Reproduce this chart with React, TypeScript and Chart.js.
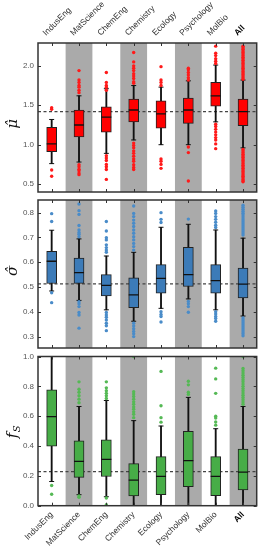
import React, { useEffect, useRef } from "react";
import { Chart, registerables } from "chart.js";
Chart.register(...registerables);

const CATEGORIES = ["IndusEng", "MatScience", "ChemEng", "Chemistry", "Ecology", "Psychology", "MolBio", "All"];
const SHADED = ["MatScience", "Chemistry", "Psychology", "All"];

// ---- mu-hat panel ----
const MU_Q1 = [0.91, 1.10, 1.16, 1.29, 1.21, 1.27, 1.49, 1.24];
const MU_MED = [1.01, 1.25, 1.35, 1.44, 1.39, 1.44, 1.62, 1.42];
const MU_Q3 = [1.22, 1.44, 1.48, 1.58, 1.555, 1.59, 1.79, 1.58];
const MU_LO = [0.76, 0.78, 0.89, 1.06, 1.0, 1.0, 1.29, 0.96];
const MU_HI = [1.32, 1.62, 1.71, 1.75, 1.73, 1.81, 2.01, 1.82];
const MU_OUT = [
  [1.47, 1.45, 0.68, 0.6],
  [1.94, 1.82, 1.79, 1.75, 1.73, 1.69, 1.66, 0.745, 0.72, 0.69, 0.67, 0.64, 0.62],
  [1.915, 1.79, 1.75, 1.73, 1.69, 0.86, 0.83, 0.8, 0.75, 0.72, 0.685, 0.56],
  [2.17, 2.05, 2.0, 1.97, 1.94, 1.9, 1.87, 1.84, 1.8, 1.78, 1.02, 0.99, 0.96, 0.92, 0.89, 0.855, 0.82, 0.79, 0.745, 0.71, 0.685],
  [1.99, 1.82, 1.79, 1.75, 0.82, 0.79, 0.75, 0.7],
  [1.97, 1.95, 1.915, 1.885, 1.85, 1.82, 0.97, 0.9, 0.54],
  [2.25, 2.16, 2.13, 2.09, 2.06, 2.03, 1.26, 1.23, 1.195, 1.16, 1.125, 1.09, 1.06, 1.01, 0.95],
  [2.25, 2.23, 2.21, 2.19, 2.17, 2.15, 2.13, 2.11, 2.09, 2.07, 2.05, 2.03, 2.01, 1.99, 1.97, 1.95, 1.93, 1.91, 1.89, 1.87, 1.85, 1.83,
   0.94, 0.92, 0.9, 0.88, 0.86, 0.84, 0.82, 0.8, 0.78, 0.76, 0.74, 0.72, 0.7, 0.68, 0.66, 0.64, 0.62, 0.6, 0.58, 0.56, 0.54, 0.53],
];
const MU_REF = 1.42;
const MU_TICKS = [0.5, 1.0, 1.5, 2.0];

// ---- sigma-hat panel ----
const SG_Q1 = [0.514, 0.515, 0.464, 0.417, 0.475, 0.502, 0.475, 0.456];
const SG_MED = [0.604, 0.558, 0.507, 0.468, 0.535, 0.55, 0.526, 0.512];
const SG_Q3 = [0.644, 0.617, 0.55, 0.537, 0.59, 0.66, 0.59, 0.576];
const SG_LO = [0.484, 0.446, 0.408, 0.362, 0.414, 0.452, 0.408, 0.383];
const SG_HI = [0.729, 0.694, 0.625, 0.64, 0.741, 0.753, 0.73, 0.697];
const SG_OUT = [
  [0.796, 0.764, 0.477, 0.437],
  [0.835, 0.808, 0.793, 0.748, 0.73, 0.72, 0.713, 0.703, 0.441, 0.432, 0.421, 0.397, 0.387, 0.334],
  [0.764, 0.726, 0.699, 0.69, 0.67, 0.659, 0.649, 0.64, 0.397, 0.387, 0.378, 0.367, 0.354, 0.344, 0.324],
  [0.827, 0.797, 0.784, 0.77, 0.757, 0.744, 0.73, 0.717, 0.703, 0.69, 0.676, 0.663, 0.649, 0.354, 0.343, 0.332, 0.321, 0.311, 0.3],
  [0.8, 0.773, 0.76, 0.4, 0.389, 0.381, 0.359],
  [0.774, 0.442, 0.432, 0.421, 0.398],
  [0.807, 0.797, 0.784, 0.773, 0.761, 0.749, 0.74, 0.4, 0.391, 0.381, 0.373, 0.362],
  [0.83, 0.822, 0.814, 0.806, 0.798, 0.79, 0.782, 0.774, 0.766, 0.758, 0.75, 0.742, 0.734, 0.726, 0.718, 0.71,
   0.375, 0.367, 0.359, 0.351, 0.343, 0.335, 0.327, 0.319, 0.311, 0.303],
];
const SG_REF = 0.513;
const SG_TICKS = [0.3, 0.4, 0.5, 0.6, 0.7, 0.8];

// ---- f_S panel ----
const FS_Q1 = [0.399, 0.19, 0.196, 0.065, 0.074, 0.128, 0.068, 0.106];
const FS_MED = [0.597, 0.297, 0.311, 0.171, 0.196, 0.302, 0.196, 0.225];
const FS_Q3 = [0.777, 0.435, 0.442, 0.282, 0.329, 0.498, 0.329, 0.379];
const FS_LO = [0.162, 0.074, 0.06, 0, 0, 0, 0, 0];
const FS_HI = [1.0, 0.665, 0.705, 0.57, 0.534, 0.726, 0.516, 0.665];
const FS_OUT = [
  [0.135, 0.077],
  [0.83, 0.78, 0.76, 0.737, 0.714, 0.69, 0.065, 0.056],
  [0.83, 0.79, 0.77, 0.753, 0.737, 0.719, 0.052, 0.007],
  [1.0, 0.764, 0.748, 0.732, 0.714, 0.696, 0.68, 0.662, 0.647, 0.629, 0.613, 0.59],
  [0.9, 0.67, 0.59, 0.56],
  [0.834, 0.81, 0.76, 0.746],
  [0.922, 0.85, 0.753, 0.6, 0.588, 0.561, 0.54],
  [1.0, 0.92, 0.905, 0.89, 0.875, 0.86, 0.845, 0.83, 0.815, 0.8, 0.785, 0.77, 0.755, 0.74, 0.725, 0.71, 0.695, 0.68],
];
const FS_REF = 0.228;
const FS_TICKS = [0.0, 0.2, 0.4, 0.6, 0.8, 1.0];

const W = 263;
const H = 550;
const SANS = '"Liberation Sans", Arial, sans-serif';

type Panel = {
  q1: number[]; med: number[]; q3: number[]; lo: number[]; hi: number[]; out: number[][];
  ref: number; ticks: number[]; min: number; max: number;
  box: string; dot: string; title: string; sub?: string; titleY: number;
  padTop: number; padBottom: number; xPos: "top" | "bottom" | null; xHeight: number;
};

const PANELS: Panel[] = [
  {
    q1: MU_Q1, med: MU_MED, q3: MU_Q3, lo: MU_LO, hi: MU_HI, out: MU_OUT, ref: MU_REF, ticks: MU_TICKS,
    min: 0.4, max: 2.29, box: "#ff0000", dot: "#ff1a1a", title: "\u03bc\u0302", titleY: 124,
    padTop: 0, padBottom: H - 192, xPos: "top", xHeight: 43,
  },
  {
    q1: SG_Q1, med: SG_MED, q3: SG_Q3, lo: SG_LO, hi: SG_HI, out: SG_OUT, ref: SG_REF, ticks: SG_TICKS,
    min: 0.254, max: 0.851, box: "#3c7bb8", dot: "#4a8cc9", title: "\u03c3\u0302", titleY: 271,
    padTop: 200, padBottom: H - 348, xPos: null, xHeight: 0,
  },
  {
    q1: FS_Q1, med: FS_MED, q3: FS_Q3, lo: FS_LO, hi: FS_HI, out: FS_OUT, ref: FS_REF, ticks: FS_TICKS,
    min: 0, max: 1.0, box: "#47ad47", dot: "#55b955", title: "f", sub: "S", titleY: 432,
    padTop: 356.5, padBottom: 0, xPos: "bottom", xHeight: H - 505.7,
  },
];

function buildChart(canvas: HTMLCanvasElement, p: Panel) {
  const decor = {
    id: "decor",
    beforeDatasetsDraw(chart: any) {
      const { ctx, chartArea } = chart;
      const { left, right, top, bottom } = chartArea;
      const xs = chart.scales.x;
      const ys = chart.scales.y;
      const step = xs.getPixelForValue(1) - xs.getPixelForValue(0);
      ctx.save();
      ctx.fillStyle = "#aaaaaa";
      SHADED.forEach((c) => {
        const i = CATEGORIES.indexOf(c);
        const px = xs.getPixelForValue(i);
        ctx.fillRect(px - step * 0.49, top, step * 0.98, bottom - top);
      });
      const yr = ys.getPixelForValue(p.ref);
      ctx.strokeStyle = "#444";
      ctx.lineWidth = 1.3;
      ctx.setLineDash([3, 2.5]);
      ctx.beginPath();
      ctx.moveTo(left, yr);
      ctx.lineTo(right, yr);
      ctx.stroke();
      ctx.restore();
    },
    afterDraw(chart: any) {
      const { ctx, chartArea } = chart;
      const { left, right, top, bottom } = chartArea;
      const xs = chart.scales.x;
      const ys = chart.scales.y;
      ctx.save();
      ctx.strokeStyle = "#333";
      ctx.lineWidth = 1.5;
      ctx.strokeRect(left, top, right - left, bottom - top);
      ctx.lineWidth = 1;
      ctx.beginPath();
      p.ticks.forEach((v) => {
        const y = Math.round(ys.getPixelForValue(v)) + 0.5;
        ctx.moveTo(left, y); ctx.lineTo(left + 3, y);
        ctx.moveTo(right, y); ctx.lineTo(right - 3, y);
      });
      CATEGORIES.forEach((_, i) => {
        const x = Math.round(xs.getPixelForValue(i)) + 0.5;
        ctx.moveTo(x, top); ctx.lineTo(x, top + 3);
        ctx.moveTo(x, bottom); ctx.lineTo(x, bottom - 3);
      });
      ctx.stroke();
      // y-axis title
      ctx.translate(13, p.titleY);
      ctx.rotate(-Math.PI / 2);
      ctx.fillStyle = "#111";
      ctx.textBaseline = "middle";
      ctx.font = 'italic 15px "DejaVu Serif", serif';
      if (p.sub) {
        const wMain = ctx.measureText(p.title).width;
        ctx.font = 'italic 10px "DejaVu Serif", serif';
        const wSub = ctx.measureText(p.sub).width;
        const x0 = -(wMain + wSub) / 2;
        ctx.textAlign = "left";
        ctx.font = 'italic 15px "DejaVu Serif", serif';
        ctx.fillText(p.title, x0, 0);
        ctx.font = 'italic 10px "DejaVu Serif", serif';
        ctx.fillText(p.sub, x0 + wMain + 0.5, 4);
      } else {
        ctx.textAlign = "center";
        ctx.fillText(p.title, 0, 0);
      }
      ctx.restore();
    },
  };

  const whiskers = CATEGORIES.map((_, i) => [p.lo[i], p.hi[i]]);
  const boxes = CATEGORIES.map((_, i) => [p.q1[i], p.q3[i]]);
  const caps: any[] = [];
  CATEGORIES.forEach((c, i) => {
    caps.push({ x: c, y: p.lo[i] });
    caps.push({ x: c, y: p.hi[i] });
  });
  const medians = CATEGORIES.map((c, i) => ({ x: c, y: p.med[i] }));
  const outliers: any[] = [];
  CATEGORIES.forEach((c, i) => p.out[i].forEach((v) => outliers.push({ x: c, y: v })));

  const xScale: any = {
    type: "category",
    labels: CATEGORIES,
    offset: true,
    display: p.xPos !== null,
    position: p.xPos || "bottom",
    grid: { display: false, drawTicks: false },
    border: { display: false },
    ticks: {
      autoSkip: false,
      minRotation: 45,
      maxRotation: 45,
      padding: p.xPos === "top" ? 5 : 4,
      color: (ctx: any) => (ctx.tick && ctx.tick.label === "All" ? "#000" : "#333"),
      font: (ctx: any) => ({
        family: SANS,
        size: 8.5,
        weight: ctx.tick && ctx.tick.label === "All" ? "bold" : "normal",
      }),
    },
    afterFit: (s: any) => { s.height = p.xHeight; },
  };

  return new Chart(canvas, {
    type: "bar",
    data: {
      labels: CATEGORIES,
      datasets: [
        {
          type: "scatter", data: outliers, order: 1,
          pointStyle: "circle", pointRadius: 1.7, pointBackgroundColor: p.dot, pointBorderWidth: 0,
        } as any,
        {
          type: "scatter", data: medians, order: 2,
          pointStyle: "line", pointRadius: 5, pointBorderColor: "#111", pointBorderWidth: 1.3,
        } as any,
        {
          type: "bar", data: boxes, order: 3, grouped: false,
          backgroundColor: p.box, borderColor: "#222", borderWidth: 1, borderSkipped: false, barThickness: 10,
        } as any,
        {
          type: "scatter", data: caps, order: 4,
          pointStyle: "line", pointRadius: 2.5, pointBorderColor: "#111", pointBorderWidth: 1,
        } as any,
        {
          type: "bar", data: whiskers, order: 5, grouped: false,
          backgroundColor: "#111", borderWidth: 0, barThickness: 1.2,
        } as any,
      ],
    },
    options: {
      responsive: false,
      animation: false,
      devicePixelRatio: 1,
      layout: { padding: { left: 0, right: 3, top: p.padTop, bottom: p.padBottom } },
      plugins: { legend: { display: false }, tooltip: { enabled: false }, title: { display: false } },
      scales: {
        x: xScale,
        y: {
          type: "linear",
          min: p.min,
          max: p.max,
          grid: { display: false, drawTicks: false },
          border: { display: false },
          afterBuildTicks: (s: any) => { s.ticks = p.ticks.map((v) => ({ value: v })); },
          ticks: {
            padding: 4,
            color: "#555",
            font: { family: SANS, size: 8 },
            callback: (v: any) => Number(v).toFixed(1),
          },
          afterFit: (s: any) => { s.width = 38; },
        } as any,
      },
    } as any,
    plugins: [decor],
  });
}

export default function App() {
  const r1 = useRef<HTMLCanvasElement>(null);
  const r2 = useRef<HTMLCanvasElement>(null);
  const r3 = useRef<HTMLCanvasElement>(null);
  useEffect(() => {
    const refs = [r1, r2, r3];
    const charts = refs.map((r, i) => buildChart(r.current as HTMLCanvasElement, PANELS[i]));
    return () => charts.forEach((c) => c.destroy());
  }, []);
  const st: React.CSSProperties = { position: "absolute", top: 0, left: 0, width: W, height: H };
  return (
    <div style={{ position: "fixed", top: 0, left: 0, width: W, height: H, background: "#fff" }}>
      <canvas ref={r1} width={W} height={H} style={st} />
      <canvas ref={r2} width={W} height={H} style={st} />
      <canvas ref={r3} width={W} height={H} style={st} />
    </div>
  );
}
